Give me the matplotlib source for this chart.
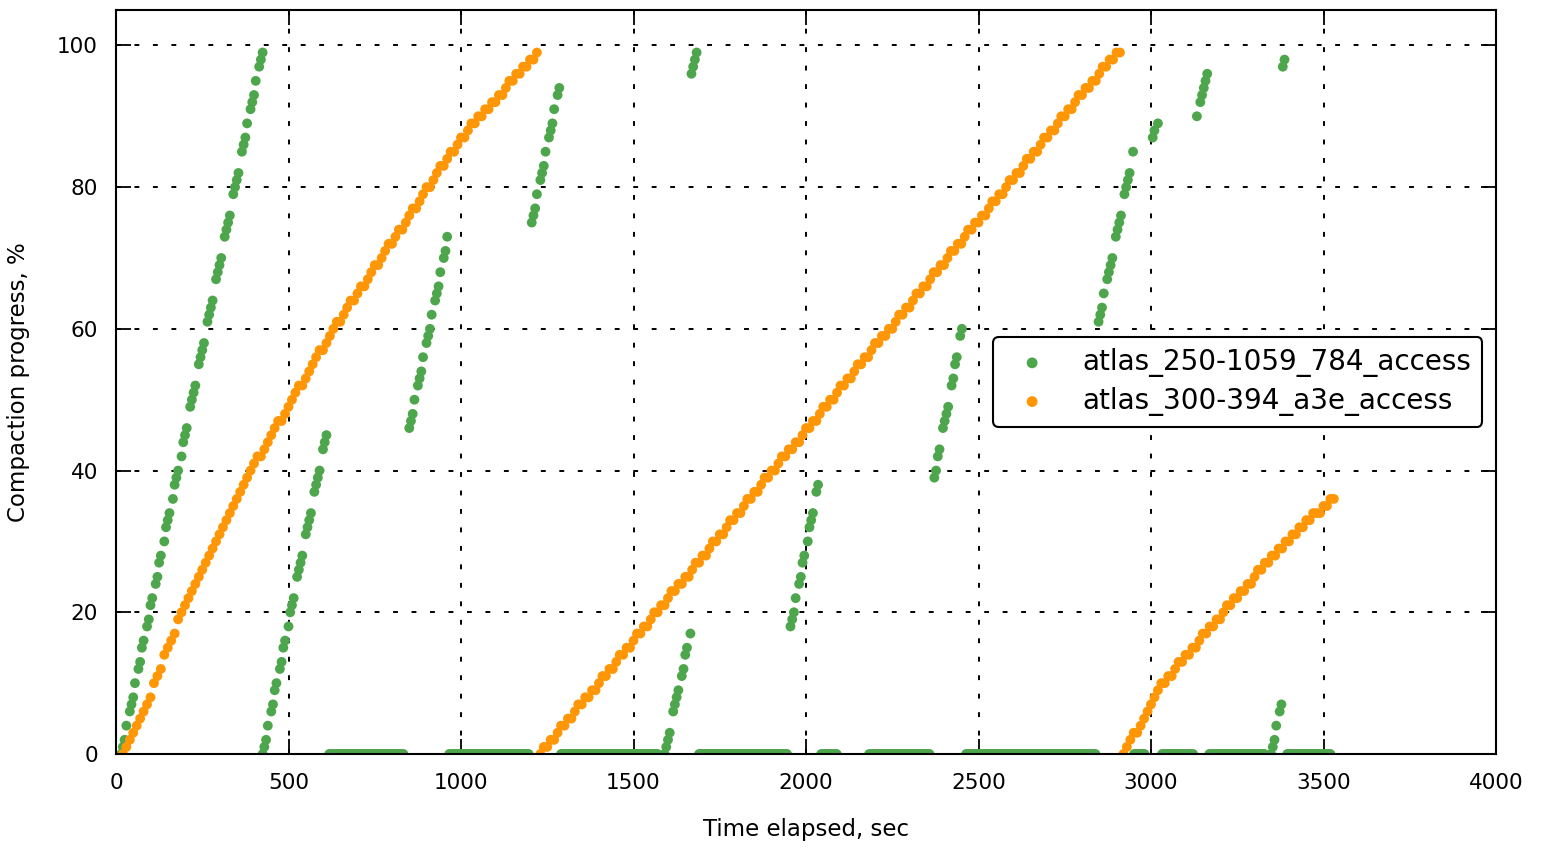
import numpy as np
import matplotlib
matplotlib.use("Agg")
import matplotlib.pyplot as plt

# ---------------- data ----------------
SERIES_NAMES = ["atlas_250-1059_784_access", "atlas_300-394_a3e_access"]
COLORS = ["#4ea64c", "#ff9606"]

X_TICKS = [0, 500, 1000, 1500, 2000, 2500, 3000, 3500, 4000]
Y_TICKS = [0, 20, 40, 60, 80, 100]

# green series: active runs, polled every GREEN_STEP s from a start time (None = missing sample)
GREEN_STEP = 5
G1_START = 15
G1_PROGRESS = [0, 1, 2, 4, None, 6, 7, 8, 10, None, 12, 13, 15, 16, None, 18, 19, 21, 22, None,
               24, 25, 27, 28, None, 30, 32, 33, 34, None, 36, 38, 39, 40, None, 42, 44, 45, 46, None,
               49, 50, 51, 52, None, 55, 56, 57, 58, None, 61, 62, 63, 64, None, 67, 68, 69, 70, None,
               73, 74, 75, 76, None, 79, 80, 81, 82, None, 85, 86, 87, 89, None, 91, 92, 93, 95, None,
               97, 98, 99]
G2_START = 425
G2_PROGRESS = [0, 1, 2, 4, None, 6, 7, 9, 10, None, 12, 13, 15, 16, None, 18, 20, 21, 22, None,
               25, 26, 27, 28, None, 31, 32, 33, 34, None, 37, 38, 39, 40, None, 43, 44, 45]
G3_START = 850
G3_PROGRESS = [46, 47, 48, 50, None, 52, 53, 54, 56, None, 58, 59, 60, 62, None, 64, 65, 66, 68, None,
               70, 71, 73]
G4_START = 1205
G4_PROGRESS = [75, 76, 77, 79, None, 81, 82, 83, 85, None, 87, 88, 89, 91, None, 93, 94]
G5_START = 1590
G5_PROGRESS = [0, 1, 2, 3, None, 6, 7, 8, 9, None, 11, 12, 14, 15, None, 17]
G6_START = 1668
G6_PROGRESS = [96, 97, 98, 99]
G7_START = 1955
G7_PROGRESS = [18, 19, 20, 22, None, 24, 25, 27, 28, None, 30, 32, 33, 34, None, 37, 38]
G8_START = 2372
G8_PROGRESS = [39, 40, 42, 43, None, 46, 47, 48, 49, None, 52, 53, 55, 56, None, 59, 60]
G9_START = 2848
G9_PROGRESS = [61, 62, 63, 65, None, 67, 68, 69, 70, None, 73, 74, 75, 76, None, 79, 80, 81, 82, None, 85]
G10_START = 3005
G10_PROGRESS = [87, 88, None, 89]
G11_START = 3133
G11_PROGRESS = [90, None, 92, 93, 94, 95, 96]
G12_START = 3382
G12_PROGRESS = [97, 98]
G13_START = 3348
G13_PROGRESS = [0, 1, 2, 4, None, 6, 7]

# green series: idle periods (progress 0), sampled every GREEN_STEP s
GREEN_IDLE_RUNS = [(618, 835), (966, 1197), (1290, 1573), (1690, 1947), (2044, 2092),
                   (2183, 2362), (2464, 2840), (2951, 2985), (3032, 3124), (3169, 3333),
                   (3395, 3521)]

# orange series: polled every ORANGE_STEP s
ORANGE_STEP = 10
O1_START = 20
O1_PROGRESS = [0, 1, 2, 3, 4, 5, 6, 7, 8, 10,
               11, 12, 14, 15, 16, 17, 19, 20, 21, 22,
               23, 24, 25, 26, 27, 28, 29, 30, 31, 32,
               33, 34, 35, 36, 37, 38, 39, 40, 41, 42,
               42, 43, 44, 45, 46, 47, 47, 48, 49, 50,
               51, 52, 52, 53, 54, 55, 56, 57, 57, 58,
               59, 60, 61, 61, 62, 63, 64, 64, 65, 66,
               66, 67, 68, 69, 69, 70, 71, 72, 72, 73,
               74, 74, 75, 76, 77, 77, 78, 79, 80, 80,
               81, 82, 83, 83, 84, 85, 85, 86, 87, 87,
               88, 89, 89, 90, 90, 91, 91, 92, 92, 93,
               93, 94, 95, 95, 96, 96, 97, 97, 98, 98,
               99]
O2_START = 1230
O2_PROGRESS = [0, 1, 1, 2, 2, 3, 4, 4, 5, 5,
               6, 7, 7, 8, 8, 9, 9, 10, 11, 11,
               12, 12, 13, 14, 14, 15, 15, 16, 17, 17,
               18, 18, 19, 20, 20, 21, 21, 22, 23, 23,
               24, 24, 25, 25, 26, 27, 27, 28, 28, 29,
               30, 30, 31, 31, 32, 33, 33, 34, 34, 35,
               36, 36, 37, 37, 38, 39, 39, 40, 40, 41,
               42, 42, 43, 43, 44, 44, 45, 46, 46, 47,
               47, 48, 49, 49, 50, 50, 51, 52, 52, 53,
               53, 54, 55, 55, 56, 56, 57, 58, 58, 59,
               59, 60, 60, 61, 62, 62, 63, 63, 64, 65,
               65, 66, 66, 67, 68, 68, 69, 69, 70, 71,
               71, 72, 72, 73, 74, 74, 75, 75, 76, 76,
               77, 78, 78, 79, 79, 80, 81, 81, 82, 82,
               83, 84, 84, 85, 85, 86, 87, 87, 88, 88,
               89, 90, 90, 91, 91, 92, 93, 93, 94, 94,
               95, 95, 96, 97, 97, 98, 98, 99, 99]
O3_START = 2920
O3_PROGRESS = [0, 1, 2, 3, 3, 4, 5, 6, 7, 8, 9, 10,
               10, 11, 11, 12, 13, 13, 14, 14, 15, 15,
               16, 17, 17, 18, 18, 19, 19, 20,
               21, 21, 22, 22, 23, 23, 24, 24, 25,
               26, 26, 27, 27, 28, 28, 29, 29, 30,
               30, 31, 31, 32, 32, 33, 33, 34, 34, 34, 35, 35, 36, 36]


def polled(start, step, values):
    v = np.array([np.nan if p is None else p for p in values], dtype=float)
    t = start + step * np.arange(len(v))
    ok = ~np.isnan(v)
    return t[ok], v[ok]


green_runs = [(G1_START, G1_PROGRESS), (G2_START, G2_PROGRESS), (G3_START, G3_PROGRESS),
              (G4_START, G4_PROGRESS), (G5_START, G5_PROGRESS), (G6_START, G6_PROGRESS),
              (G7_START, G7_PROGRESS), (G8_START, G8_PROGRESS), (G9_START, G9_PROGRESS),
              (G10_START, G10_PROGRESS), (G11_START, G11_PROGRESS), (G12_START, G12_PROGRESS),
              (G13_START, G13_PROGRESS)]
gt, gp = [], []
for s, vals in green_runs:
    t, v = polled(s, GREEN_STEP, vals)
    gt.append(t); gp.append(v)
for a, b in GREEN_IDLE_RUNS:
    t = np.arange(a, b + 1, GREEN_STEP)
    gt.append(t); gp.append(np.zeros(len(t)))
green_t = np.concatenate(gt); green_p = np.concatenate(gp)

ot, op = [], []
for s, vals in [(O1_START, O1_PROGRESS), (O2_START, O2_PROGRESS), (O3_START, O3_PROGRESS)]:
    t, v = polled(s, ORANGE_STEP, vals)
    ot.append(t); op.append(v)
orange_t = np.concatenate(ot); orange_p = np.concatenate(op)

# ---------------- figure ----------------
fig = plt.figure(figsize=(15.42, 8.49), dpi=100)
fig.patch.set_facecolor("white")
ax = fig.add_axes([116 / 1542, 95 / 849, 1380 / 1542, 744 / 849])

ax.scatter(green_t, green_p, s=50, color=COLORS[0], edgecolors="none", label=SERIES_NAMES[0], zorder=3)
ax.scatter(orange_t, orange_p, s=50, color=COLORS[1], edgecolors="none", label=SERIES_NAMES[1], zorder=3)

ax.set_xlim(0, 4000)
ax.set_ylim(0, 105)
ax.set_xticks(X_TICKS)
ax.set_yticks(Y_TICKS)
ax.set_axisbelow(True)
ax.grid(True, color="black", linestyle=(0, (2.5, 7)), linewidth=1.4)

for sp in ax.spines.values():
    sp.set_linewidth(1.5)
    sp.set_color("black")
    sp.set_zorder(4)

ax.tick_params(direction="in", length=11, width=1.3, top=True, right=True,
               labelsize=15.5, colors="black")
ax.tick_params(axis="x", pad=14)
ax.tick_params(axis="y", pad=13)

ax.set_xlabel("Time elapsed, sec", fontsize=16.5)
ax.set_ylabel("Compaction progress, %", fontsize=16.5)
ax.xaxis.set_label_coords(0.5, -0.102)
ax.xaxis.label.set_va("center")
ax.yaxis.set_label_coords(-0.071, 0.5)
ax.yaxis.label.set_va("center")

leg = ax.legend(loc="center right", fontsize=20, scatterpoints=1, frameon=True,
                fancybox=True, framealpha=1, edgecolor="black", labelspacing=0.35,
                markerscale=1.1)
leg.get_frame().set_linewidth(1.5)
leg.set_zorder(5)

fig.savefig("out.png", dpi=100, facecolor="white")
